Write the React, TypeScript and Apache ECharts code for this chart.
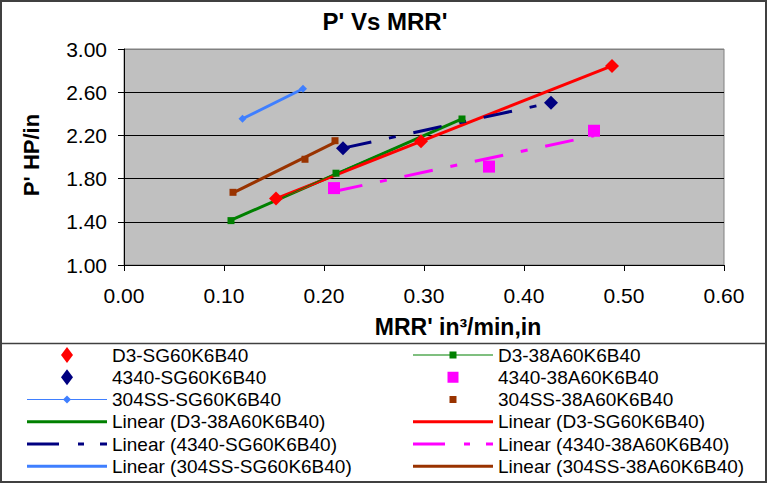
import React, { useEffect, useRef } from "react";
import * as echarts from "echarts";

// ---- text ----
const TITLE = "P' Vs MRR'";
const X_NAME = "MRR' in³/min,in";
const Y_NAME = "P' HP/in";

// ---- axes ----
const X_MIN = 0;
const X_MAX = 0.6;
const X_STEP = 0.1;
const Y_MIN = 1;
const Y_MAX = 3;
const Y_STEP = 0.4;

// ---- series names ----
const D3_SG = "D3-SG60K6B40";
const D3_38A = "D3-38A60K6B40";
const S4340_SG = "4340-SG60K6B40";
const S4340_38A = "4340-38A60K6B40";
const SS304_SG = "304SS-SG60K6B40";
const SS304_38A = "304SS-38A60K6B40";

// ---- measured points (MRR', P') ----
const d3sgX = [0.152, 0.297, 0.488];
const d3sgY = [1.615, 2.145, 2.843];

const d3_38aX = [0.107, 0.212, 0.338];
const d3_38aY = [1.411, 1.85, 2.352];

const s4340sgX = [0.219, 0.427];
const s4340sgY = [2.082, 2.503];

const s4340_38aX = [0.21, 0.365, 0.47];
const s4340_38aY = [1.712, 1.911, 2.243];

const ss304sgX = [0.1185, 0.179];
const ss304sgY = [2.354, 2.632];

const ss304_38aX = [0.109, 0.181, 0.211];
const ss304_38aY = [1.673, 1.979, 2.151];

// ---- linear trend lines: [start, end] ----
const trendD3_38A = [[0.107, 1.415], [0.338, 2.354]];
const trendD3_SG = [[0.152, 1.615], [0.488, 2.844]];
const trend4340_SG = [[0.219, 2.082], [0.427, 2.503]];
const trend4340_38A = [[0.21, 1.681], [0.47, 2.197]];
const trend304_SG = [[0.1185, 2.354], [0.179, 2.632]];
const trend304_38A = [[0.109, 1.667], [0.211, 2.136]];

const FONT = "'Liberation Sans', Arial, Helvetica, sans-serif";

const RED = "#FF0000";
const GREEN = "#008000";
const NAVY = "#000080";
const MAGENTA = "#FF00FF";
const SKY = "#3F7FFF";
const BROWN = "#993300";

const lin = (n: string) => `Linear (${n})`;

// legend columns, top to bottom
const LEGEND_LEFT = [D3_SG, S4340_SG, SS304_SG, lin(D3_38A), lin(S4340_SG), lin(SS304_SG)];
const LEGEND_RIGHT = [D3_38A, S4340_38A, SS304_38A, lin(D3_SG), lin(S4340_38A), lin(SS304_38A)];

const ICON_BOX = 80;
const ICON_DIAMOND = "path://M0,8L6,0L12,8L6,16Z";
const ICON_SQUARE = "path://M0,0h10v10h-10z";
const ICON_LINE_SQUARE = "path://M0,3h80v1h-80z M36.5,0h7v7h-7z";
const ICON_LINE_DIAMOND = "path://M0,3.5h80v1h-80z M40,0L44,4L40,8L36,4Z";
const ICON_SOLID = "path://M0,0h80v3h-80z";
const ICON_DASHDOT = "path://M0,0h32v3h-32z M51,0h6v3h-6z M73,0h7v3h-7z";

// w = drawn icon width; narrow icons are centred in an 80px slot
const LEGEND_ICONS: Record<string, { icon: string; w: number; h: number; color: string }> = {
  [D3_SG]: { icon: ICON_DIAMOND, w: 12, h: 16, color: RED },
  [D3_38A]: { icon: ICON_LINE_SQUARE, w: 80, h: 7, color: GREEN },
  [S4340_SG]: { icon: ICON_DIAMOND, w: 12, h: 16, color: NAVY },
  [S4340_38A]: { icon: ICON_SQUARE, w: 11, h: 11, color: MAGENTA },
  [SS304_SG]: { icon: ICON_LINE_DIAMOND, w: 80, h: 8, color: SKY },
  [SS304_38A]: { icon: ICON_SQUARE, w: 7, h: 7, color: BROWN },
  [lin(D3_38A)]: { icon: ICON_SOLID, w: 80, h: 3, color: GREEN },
  [lin(D3_SG)]: { icon: ICON_SOLID, w: 80, h: 3, color: RED },
  [lin(S4340_SG)]: { icon: ICON_DASHDOT, w: 80, h: 3, color: NAVY },
  [lin(S4340_38A)]: { icon: ICON_DASHDOT, w: 80, h: 3, color: MAGENTA },
  [lin(SS304_SG)]: { icon: ICON_SOLID, w: 80, h: 3, color: SKY },
  [lin(SS304_38A)]: { icon: ICON_SOLID, w: 80, h: 3, color: BROWN },
};

const pairs = (xs: number[], ys: number[]) => xs.map((x, i) => [x, ys[i]]);

function legendItem(name: string, slotLeft: number, cy: number) {
  const k = LEGEND_ICONS[name];
  const pad = (ICON_BOX - k.w) / 2;
  return {
    show: true,
    left: slotLeft + pad,
    top: cy - 10,
    padding: 0,
    orient: "horizontal",
    selectedMode: false,
    itemWidth: k.w,
    itemHeight: k.h,
    itemGap: 0,
    data: [{ name, icon: k.icon }],
    itemStyle: { color: k.color, borderWidth: 0 },
    textStyle: {
      fontFamily: FONT,
      fontSize: 19,
      color: "#000",
      lineHeight: 20,
      padding: [0, 0, 0, pad],
    },
  };
}

function trendSeries(name: string, data: number[][], color: string, dashed: boolean) {
  return {
    type: "line",
    name,
    data,
    symbol: "none",
    z: 3,
    lineStyle: {
      color,
      width: 3,
      type: dashed ? [29, 18, 7, 18] : "solid",
      cap: "butt",
    },
    itemStyle: { color },
    emphasis: { disabled: true },
  };
}

function markerSeries(name: string, data: number[][], symbol: string, size: number, color: string) {
  return {
    type: "scatter",
    name,
    data,
    symbol,
    symbolSize: size,
    z: 5,
    itemStyle: { color, borderWidth: 0, opacity: 1 },
    emphasis: { disabled: true },
  };
}

function connectedSeries(name: string, data: number[][], symbol: string, size: number, color: string) {
  return {
    type: "line",
    name,
    data,
    symbol,
    symbolSize: size,
    showSymbol: true,
    z: 4,
    lineStyle: { color, width: 1 },
    itemStyle: { color, borderWidth: 0 },
    emphasis: { disabled: true },
  };
}

export default function App() {
  const ref = useRef<HTMLDivElement>(null);

  useEffect(() => {
    if (!ref.current) return;
    const chart = echarts.init(ref.current, undefined, { renderer: "svg" });

    const rowY = (i: number) => 355 + 22.25 * i;
    const legends = [
      ...LEGEND_LEFT.map((n, i) => legendItem(n, 27, rowY(i))),
      ...LEGEND_RIGHT.map((n, i) => legendItem(n, 413, rowY(i))),
    ];

    chart.setOption({
      animation: false,
      backgroundColor: "#FFFFFF",
      grid: {
        left: 124,
        top: 49,
        width: 600,
        height: 216,
        show: true,
        backgroundColor: "#C0C0C0",
        borderColor: "#808080",
        borderWidth: 1,
        containLabel: false,
      },
      xAxis: {
        type: "value",
        min: X_MIN,
        max: X_MAX,
        interval: X_STEP,
        axisLine: { show: true, onZero: false, lineStyle: { color: "#000", width: 1 } },
        axisTick: { show: true, length: 6, inside: false, lineStyle: { color: "#000", width: 1 } },
        axisLabel: {
          formatter: (v: number) => v.toFixed(2),
          fontFamily: FONT,
          fontSize: 21,
          color: "#000",
          margin: 20,
        },
        splitLine: { show: false },
      },
      yAxis: {
        type: "value",
        min: Y_MIN,
        max: Y_MAX,
        interval: Y_STEP,
        axisLine: { show: true, onZero: false, lineStyle: { color: "#000", width: 1 } },
        axisTick: { show: true, length: 6, inside: false, lineStyle: { color: "#000", width: 1 } },
        axisLabel: {
          formatter: (v: number) => v.toFixed(2),
          fontFamily: FONT,
          fontSize: 21,
          color: "#000",
          margin: 17,
        },
        splitLine: {
          show: true,
          lineStyle: { color: ["#000", "#000", "#000", "#000", "#000", "#808080"], width: 1 },
        },
      },
      legend: legends,
      series: [
        trendSeries(lin(D3_38A), trendD3_38A, GREEN, false),
        trendSeries(lin(D3_SG), trendD3_SG, RED, false),
        trendSeries(lin(S4340_SG), trend4340_SG, NAVY, true),
        trendSeries(lin(S4340_38A), trend4340_38A, MAGENTA, true),
        trendSeries(lin(SS304_SG), trend304_SG, SKY, false),
        trendSeries(lin(SS304_38A), trend304_38A, BROWN, false),
        markerSeries(D3_SG, pairs(d3sgX, d3sgY), "diamond", 14, RED),
        connectedSeries(D3_38A, pairs(d3_38aX, d3_38aY), "rect", 7, GREEN),
        markerSeries(S4340_SG, pairs(s4340sgX, s4340sgY), "diamond", 14, NAVY),
        markerSeries(S4340_38A, pairs(s4340_38aX, s4340_38aY), "rect", 12, MAGENTA),
        connectedSeries(SS304_SG, pairs(ss304sgX, ss304sgY), "diamond", 8, SKY),
        markerSeries(SS304_38A, pairs(ss304_38aX, ss304_38aY), "rect", 7, BROWN),
      ],
      graphic: [
        {
          type: "rect",
          silent: true,
          z: -10,
          shape: { x: 1, y: 1, width: 765, height: 481 },
          style: { fill: "none", stroke: "#404040", lineWidth: 2 },
        },
        {
          type: "line",
          silent: true,
          shape: { x1: 0, y1: 343.5, x2: 767, y2: 343.5 },
          style: { stroke: "#404040", lineWidth: 1.5 },
        },
        {
          type: "text",
          silent: true,
          x: 385,
          y: 21,
          style: {
            text: TITLE,
            fontFamily: FONT,
            fontSize: 24,
            fontWeight: "bold",
            fill: "#000",
            align: "center",
            verticalAlign: "middle",
          },
        },
        {
          type: "text",
          silent: true,
          x: 458,
          y: 327,
          style: {
            text: X_NAME,
            fontFamily: FONT,
            fontSize: 23,
            fontWeight: "bold",
            fill: "#000",
            align: "center",
            verticalAlign: "middle",
          },
        },
        {
          type: "text",
          silent: true,
          x: 31,
          y: 155,
          rotation: Math.PI / 2,
          style: {
            text: Y_NAME,
            fontFamily: FONT,
            fontSize: 22,
            fontWeight: "bold",
            fill: "#000",
            align: "center",
            verticalAlign: "middle",
          },
        },
      ],
    });

    return () => chart.dispose();
  }, []);

  return (
    <div
      ref={ref}
      style={{ position: "fixed", left: 0, top: 0, width: 767, height: 483 }}
    />
  );
}
